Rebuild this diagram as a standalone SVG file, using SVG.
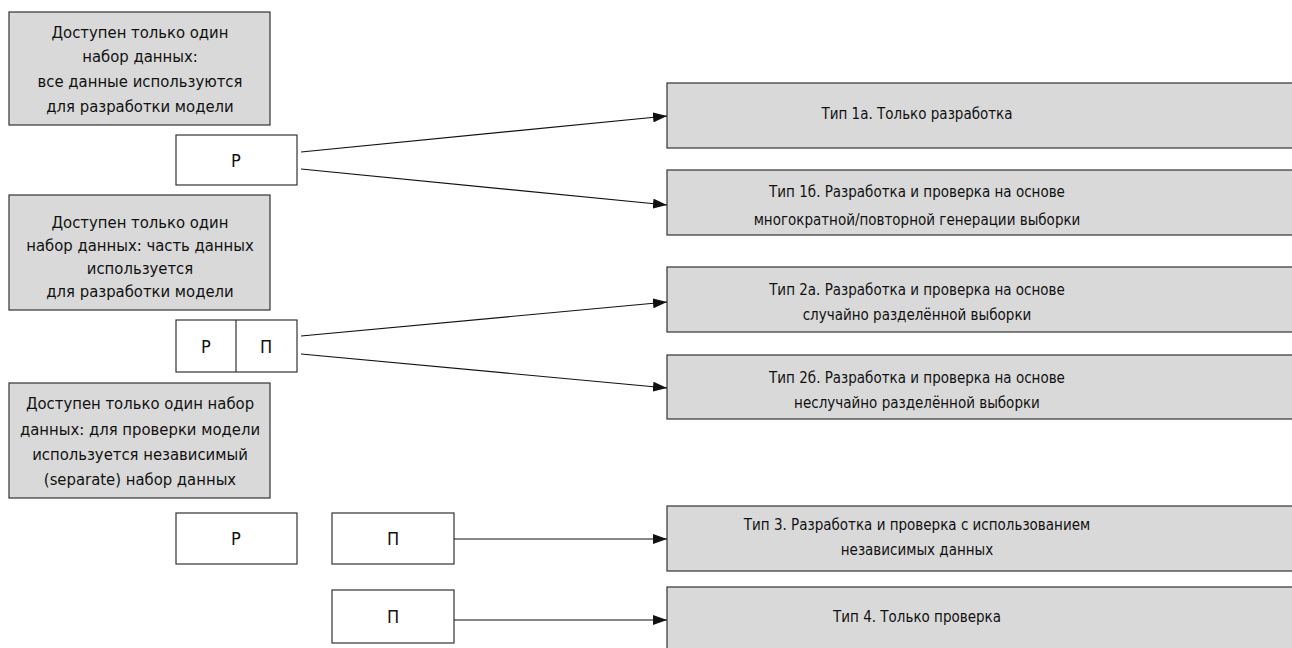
<svg xmlns="http://www.w3.org/2000/svg" width="1292" height="648" viewBox="0 0 1292 648">
<style>
.g{fill:#d9d9d9;stroke:#333;stroke-width:1.2}
.w{fill:#fff;stroke:#333;stroke-width:1.2}
text{font-family:"DejaVu Sans Condensed","DejaVu Sans",sans-serif;font-stretch:condensed;font-size:15px;fill:#111;text-anchor:middle}
.l text{font-size:16.5px}
.s text{font-size:18px}
.c{stroke:#111;stroke-width:1.2;fill:none;marker-end:url(#ah)}
</style>
<defs>
<marker id="ah" viewBox="0 0 14 10" refX="14" refY="5" markerWidth="14" markerHeight="10" markerUnits="userSpaceOnUse" orient="auto">
<path d="M0,0 L14,5 L0,10 Z" fill="#111"/>
</marker>
</defs>
<rect width="1292" height="648" fill="#fff"/>
<g id="a1" class="l"><rect class="g" x="9" y="12" width="261" height="113"/>
<text x="140" y="38">Доступен только один</text><text x="140" y="62">набор данных:</text><text x="140" y="87">все данные используются</text><text x="140" y="112">для разработки модели</text></g>
<g id="p1" class="s"><rect class="w" x="176" y="135" width="121" height="50"/><text x="236" y="167">Р</text></g>
<g id="a2" class="l"><rect class="g" x="9" y="195" width="261" height="115"/>
<text x="140" y="228">Доступен только один</text><text x="140" y="251">набор данных: часть данных</text><text x="140" y="274">используется</text><text x="140" y="297">для разработки модели</text></g>
<g id="p2" class="s"><rect class="w" x="176" y="320" width="121" height="52"/><line x1="236" y1="320" x2="236" y2="372" stroke="#333" stroke-width="1.2"/><text x="206" y="353">Р</text><text x="266" y="353">П</text></g>
<g id="a3" class="l"><rect class="g" x="9" y="383" width="261" height="115"/>
<text x="140" y="409">Доступен только один набор</text><text x="140" y="435">данных: для проверки модели</text><text x="140" y="460">используется независимый</text><text x="140" y="485">(separate) набор данных</text></g>
<g id="p3r" class="s"><rect class="w" x="176" y="513" width="121" height="51"/><text x="236" y="545">Р</text></g>
<g id="p3p" class="s"><rect class="w" x="332" y="513" width="122" height="51"/><text x="393" y="545">П</text></g>
<g id="p4p" class="s"><rect class="w" x="332" y="590" width="122" height="53"/><text x="393" y="623">П</text></g>
<g id="t1a"><rect class="g" x="667" y="83" width="640" height="65"/><text x="917" y="119">Тип 1а. Только разработка</text></g>
<g id="t1b"><rect class="g" x="667" y="170" width="640" height="65"/><text x="917" y="197">Тип 1б. Разработка и проверка на основе</text><text x="917" y="225">многократной/повторной генерации выборки</text></g>
<g id="t2a"><rect class="g" x="667" y="267" width="640" height="65"/><text x="917" y="295">Тип 2а. Разработка и проверка на основе</text><text x="917" y="320">случайно разделённой выборки</text></g>
<g id="t2b"><rect class="g" x="667" y="355" width="640" height="64"/><text x="917" y="383">Тип 2б. Разработка и проверка на основе</text><text x="917" y="408">неслучайно разделённой выборки</text></g>
<g id="t3"><rect class="g" x="667" y="506" width="640" height="65"/><text x="917" y="530">Тип 3. Разработка и проверка с использованием</text><text x="917" y="555">независимых данных</text></g>
<g id="t4"><rect class="g" x="667" y="587" width="640" height="80"/><text x="917" y="622">Тип 4. Только проверка</text></g>
<g id="connectors">
<line class="c" x1="301" y1="152" x2="667" y2="116"/>
<line class="c" x1="301" y1="169" x2="667" y2="205"/>
<line class="c" x1="301" y1="336" x2="667" y2="302"/>
<line class="c" x1="301" y1="354" x2="667" y2="388"/>
<line class="c" x1="454" y1="539" x2="667" y2="539"/>
<line class="c" x1="454" y1="620" x2="667" y2="620"/>
</g>
</svg>
